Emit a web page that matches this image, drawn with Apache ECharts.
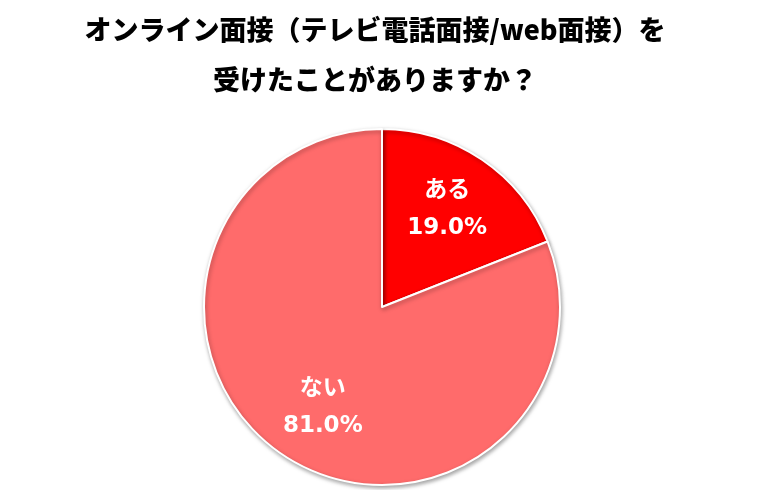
<!DOCTYPE html>
<html>
<head>
<meta charset="utf-8">
<script src="https://cdn.jsdelivr.net/npm/echarts@6/dist/echarts.min.js"></script>
<style>
  html, body { margin: 0; padding: 0; background: #fff; }
  #chart { width: 767px; height: 490px; }
</style>
</head>
<body>
<div id="chart"></div>
<script>
const categories = ['ある', 'ない'];
const values = [19.0, 81.0];
const colors = ['#FF0000', '#FF6B6B'];

const chart = echarts.init(document.getElementById('chart'));
const center = [382, 307];

const option = {
  animation: false,
  title: {
    text: 'オンライン面接（テレビ電話面接/web面接）を\n受けたことがありますか？',
    left: 375,
    top: 5,
    padding: 0,
    textAlign: 'center',
    textStyle: {
      fontFamily: 'Noto Sans CJK JP',
      fontWeight: 900,
      fontSize: 27,
      lineHeight: 50,
      color: '#000'
    }
  },
  series: [
    {
      type: 'pie',
      center: center,
      radius: 178,
      startAngle: 90,
      clockwise: true,
      data: categories.map((c, i) => ({
        name: c,
        value: values[i],
        itemStyle: { color: colors[i] }
      })),
      itemStyle: {
        borderColor: '#fff',
        borderWidth: 2,
        shadowBlur: 4,
        shadowColor: 'rgba(0,0,0,0.35)',
        shadowOffsetX: 1,
        shadowOffsetY: 2
      },
      label: {
        position: 'inside',
        formatter: p => '{n|' + p.name + '}\n{v|' + p.value.toFixed(1) + '%}',
        rich: {
          n: {
            fontFamily: 'Noto Sans CJK JP',
            fontWeight: 'bold',
            fontSize: 23,
            color: '#fff',
            lineHeight: 40
          },
          v: {
            fontFamily: 'DejaVu Sans',
            fontWeight: 'bold',
            fontSize: 23,
            color: '#fff',
            lineHeight: 40
          }
        }
      },
      labelLayout: function (params) {
        // push the inside labels a bit further out from the centre
        const r = params.labelRect;
        const cx = r.x + r.width / 2;
        const cy = r.y + r.height / 2;
        return {
          dx: (cx - center[0]) * 0.3 + (cx < center[0] ? 8 : -2),
          dy: (cy - center[1]) * 0.3
        };
      }
    }
  ]
};

chart.setOption(option);
</script>
</body>
</html>
